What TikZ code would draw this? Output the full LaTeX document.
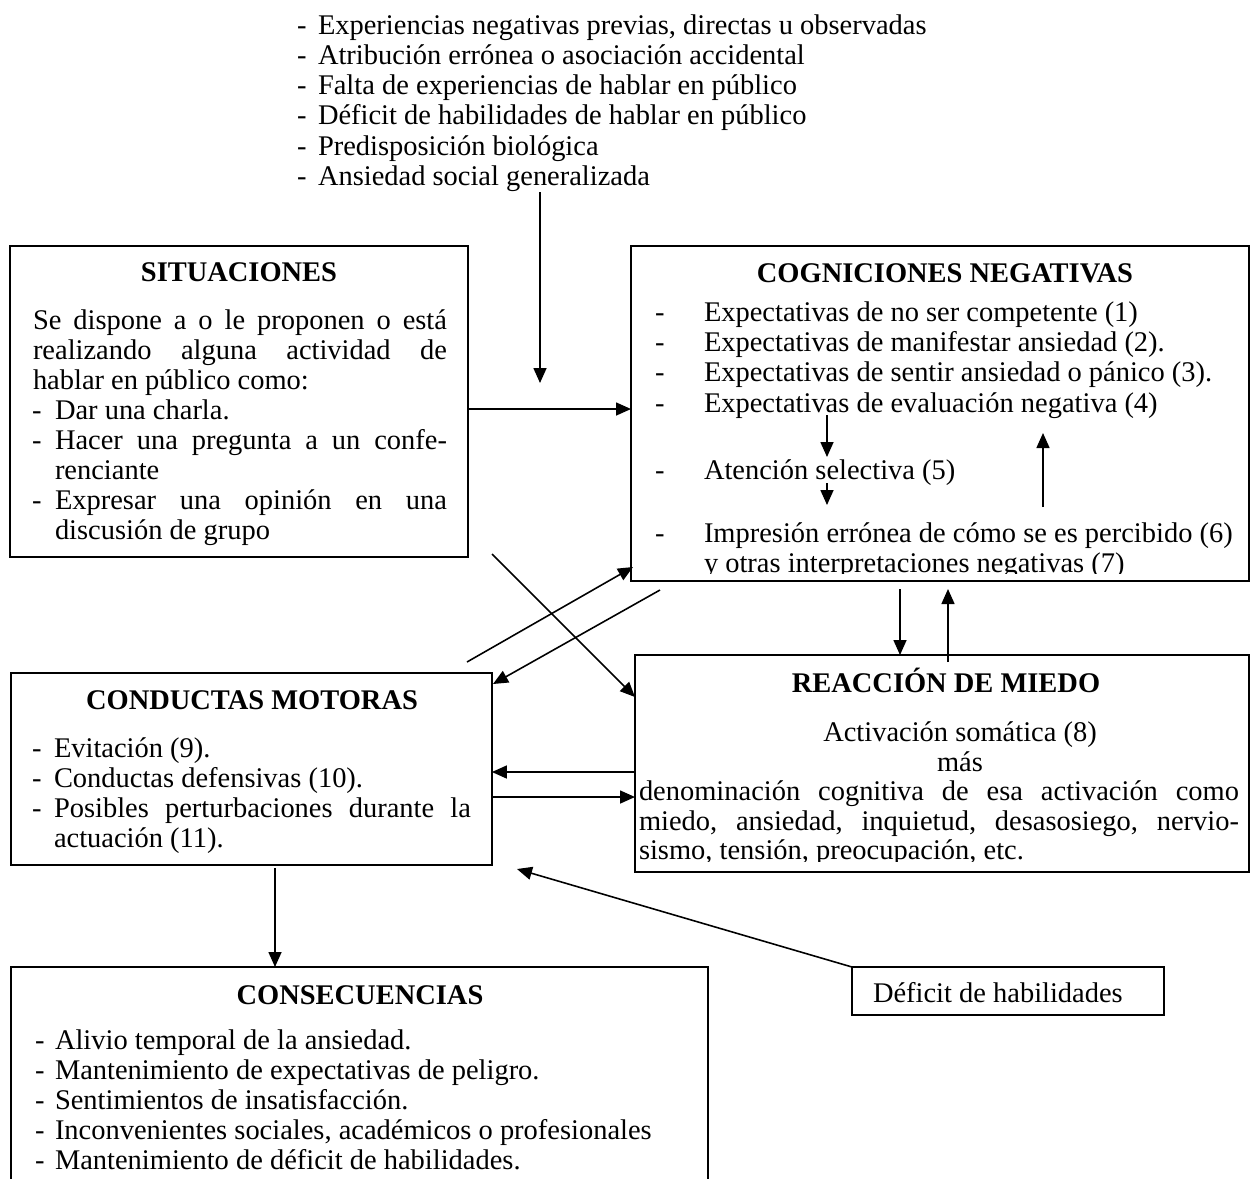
\documentclass[tikz,border=0pt]{standalone}
\usepackage{fontspec}
\setmainfont{Liberation Serif}
\usetikzlibrary{arrows.meta}
\newlength\pxu
\setlength\pxu{0.02cm}
\newcommand\jline[2]{\makebox[#1\pxu][s]{#2}}
\begin{document}
\begin{tikzpicture}[x=0.02cm, y=-0.02cm,
  font=\fontsize{16.2}{19}\selectfont,
  txt/.style={anchor=base west, inner sep=0pt, outer sep=0pt},
  ctr/.style={anchor=base, inner sep=0pt, outer sep=0pt},
  ttl/.style={anchor=base, inner sep=0pt, outer sep=0pt, font=\fontsize{16.2}{19}\selectfont\bfseries},
  box/.style={draw, line width=1pt, anchor=north west, inner sep=0pt, outer sep=0pt},
  arr/.style={-{Triangle[length=0.3cm,width=0.26cm]}, line width=0.9pt},
]
\useasboundingbox (0,0) rectangle (1251,1178);
\fill[white] (0,0) rectangle (1251,1178);

% ---------- top list ----------
\node[txt] (l1d) at (297,34) {-};
\node[txt] (l1) at (318,34) {Experiencias negativas previas, directas u observadas};
\node[txt] (l2d) at (297,64) {-};
\node[txt] (l2) at (318,64) {Atribución errónea o asociación accidental};
\node[txt] (l3d) at (297,94) {-};
\node[txt] (l3) at (318,94) {Falta de experiencias de hablar en público};
\node[txt] (l4d) at (297,124) {-};
\node[txt] (l4) at (318,124) {Déficit de habilidades de hablar en público};
\node[txt] (l5d) at (297,155) {-};
\node[txt] (l5) at (318,155) {Predisposición biológica};
\node[txt] (l6d) at (297,185) {-};
\node[txt] (l6) at (318,185) {Ansiedad social generalizada};

% ---------- boxes ----------
\node[box, minimum width=9.16cm, minimum height=6.22cm] (sit) at (10,246) {};
\node[box, minimum width=12.36cm, minimum height=6.70cm] (cog) at (631,246) {};
\node[box, minimum width=12.28cm, minimum height=4.34cm] (reac) at (635,655) {};
\node[box, minimum width=9.62cm, minimum height=3.84cm] (cond) at (11,673) {};
\node[box, minimum width=13.94cm, minimum height=4.80cm] (cons) at (11,967) {};
\node[box, minimum width=6.24cm, minimum height=0.96cm] (def) at (852,967) {};

% ---------- SITUACIONES ----------
\node[ttl] (sitT) at (239,281) {SITUACIONES};
\node[txt] (s1) at (33,329) {\jline{414}{Se dispone a o le proponen o está}};
\node[txt] (s2) at (33,359) {\jline{414}{realizando alguna actividad de}};
\node[txt] (s3) at (33,389) {hablar en público como:};
\node[txt] (s4d) at (32,419) {-};
\node[txt] (s4) at (55,419) {Dar una charla.};
\node[txt] (s5d) at (32,449) {-};
\node[txt] (s5) at (55,449) {\jline{392}{Hacer una pregunta a un confe-}};
\node[txt] (s6) at (55,479) {renciante};
\node[txt] (s7d) at (32,509) {-};
\node[txt] (s7) at (55,509) {\jline{392}{Expresar una opinión en una}};
\node[txt] (s8) at (55,539) {discusión de grupo};

% ---------- COGNICIONES ----------
\node[ttl] (cogT) at (945,282) {COGNICIONES NEGATIVAS};
\node[txt] (c1d) at (655,321) {-};
\node[txt] (c1) at (704,321) {Expectativas de no ser competente (1)};
\node[txt] (c2d) at (655,351) {-};
\node[txt] (c2) at (704,351) {Expectativas de manifestar ansiedad (2).};
\node[txt] (c3d) at (655,381) {-};
\node[txt] (c3) at (704,381) {Expectativas de sentir ansiedad o pánico (3).};
\node[txt] (c4d) at (655,412) {-};
\node[txt] (c4) at (704,412) {Expectativas de evaluación negativa (4)};
\node[txt] (c5d) at (655,479) {-};
\node[txt] (c5) at (704,479) {Atención selectiva (5)};
\node[txt] (c6d) at (655,542) {-};
\node[txt] (c6) at (704,542) {Impresión errónea de cómo se es percibido (6)};
\begin{scope}
  \clip (640,550) rectangle (1240,573.5);
  \node[txt] (c7) at (704,572) {y otras interpretaciones negativas (7)};
\end{scope}

% ---------- REACCION ----------
\node[ttl] (reacT) at (946,692) {REACCIÓN DE MIEDO};
\node[ctr] (r1) at (960,741) {Activación somática (8)};
\node[ctr] (r2) at (960,771) {más};
\node[txt] (r3) at (639,800) {\jline{600}{denominación cognitiva de esa activación como}};
\node[txt] (r4) at (639,830) {\jline{600}{miedo, ansiedad, inquietud, desasosiego, nervio-}};
\begin{scope}
  \clip (638,838) rectangle (1240,861);
  \node[txt] (r5) at (639,859) {sismo, tensión, preocupación, etc.};
\end{scope}

% ---------- CONDUCTAS ----------
\node[ttl] (condT) at (252,709) {CONDUCTAS MOTORAS};
\node[txt] (k1d) at (32,757) {-};
\node[txt] (k1) at (54,757) {Evitación (9).};
\node[txt] (k2d) at (32,787) {-};
\node[txt] (k2) at (54,787) {Conductas defensivas (10).};
\node[txt] (k3d) at (32,817) {-};
\node[txt] (k3) at (54,817) {\jline{417}{Posibles perturbaciones durante la}};
\node[txt] (k4) at (54,847) {actuación (11).};

% ---------- CONSECUENCIAS ----------
\node[ttl] (consT) at (360,1004) {CONSECUENCIAS};
\node[txt] (q1d) at (35,1049) {-};
\node[txt] (q1) at (55,1049) {Alivio temporal de la ansiedad.};
\node[txt] (q2d) at (35,1079) {-};
\node[txt] (q2) at (55,1079) {Mantenimiento de expectativas de peligro.};
\node[txt] (q3d) at (35,1109) {-};
\node[txt] (q3) at (55,1109) {Sentimientos de insatisfacción.};
\node[txt] (q4d) at (35,1139) {-};
\node[txt] (q4) at (55,1139) {Inconvenientes sociales, académicos o profesionales};
\node[txt] (q5d) at (35,1169) {-};
\node[txt] (q5) at (55,1169) {Mantenimiento de déficit de habilidades.};

% ---------- Deficit ----------
\node[txt] (defT) at (873,1002) {Déficit de habilidades};

% ---------- connectors ----------
\coordinate (srcTop) at (540,192);
\coordinate (srcTip) at (540,383);
\draw[arr] (srcTop) -- (srcTip);

\coordinate (ySC) at (0,409);
\draw[arr] (sit.east |- ySC) -- (cog.west |- ySC);

\coordinate (dA) at (492,554);
\coordinate (yA) at (0,697);
\draw[arr] (dA) -- (reac.west |- yA);

\coordinate (dB) at (467,662);
\coordinate (dBt) at (633,567);
\draw[arr] (dB) -- (dBt);

\coordinate (dC) at (660,590);
\coordinate (dCt) at (493,684);
\draw[arr] (dC) -- (dCt);

\coordinate (vD) at (900,589);
\draw[arr] (vD) -- (reac.north -| vD);
\coordinate (vE) at (948,662);
\coordinate (vEt) at (948,589);
\draw[arr] (vE) -- (vEt);

\coordinate (yF) at (0,772);
\draw[arr] (reac.west |- yF) -- (cond.east |- yF);
\coordinate (yG) at (0,797);
\draw[arr] (cond.east |- yG) -- (reac.west |- yG);

\coordinate (vH) at (275,868);
\draw[arr] (vH) -- (cons.north -| vH);

\coordinate (defTip) at (517,869);
\draw[arr] (def.north west) -- (defTip);

% internal cognition arrows
\coordinate (i1a) at (827,415);
\coordinate (i1b) at (827,457);
\draw[arr] (i1a) -- (i1b);
\coordinate (i2a) at (827,483);
\coordinate (i2b) at (827,505);
\draw[arr] (i2a) -- (i2b);
\coordinate (i3a) at (1043,507);
\coordinate (i3b) at (1043,433);
\draw[arr] (i3a) -- (i3b);
\end{tikzpicture}
\end{document}
